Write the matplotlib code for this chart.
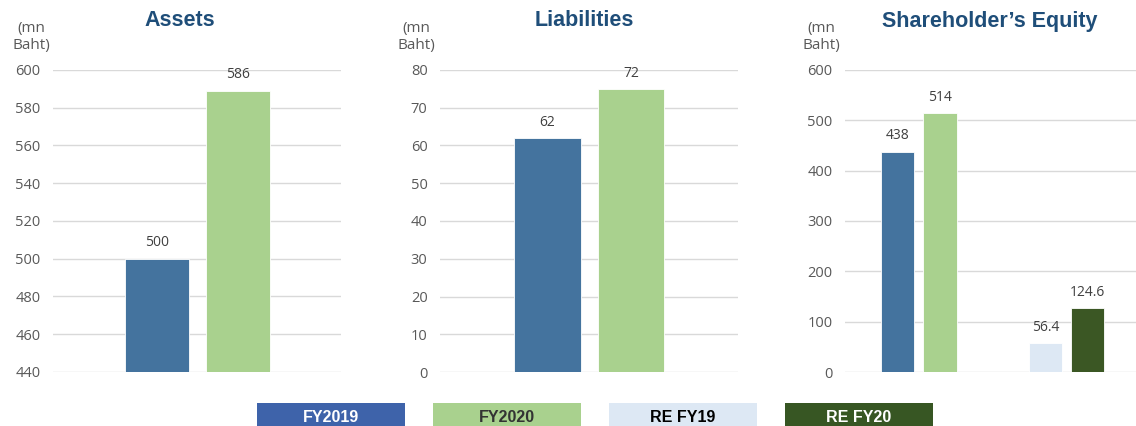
import matplotlib
matplotlib.use("Agg")
from matplotlib import pyplot as plt
from matplotlib.patches import Rectangle

# values (bar heights) and the printed labels
assets_vals = [500, 589]
assets_labels = ["500", "586"]
liab_vals = [62, 75]
liab_labels = ["62", "72"]
equity_vals = [438, 514, 57, 127]
equity_labels = ["438", "514", "56.4", "124.6"]

legend_names = ["FY2019", "FY2020", "RE FY19", "RE FY20"]
bar_colors = ["#44739e", "#a9d18e", "#dde8f4", "#3b5724"]
legend_colors = ["#3e63aa", "#a9d18e", "#dde8f4", "#375623"]
legend_text = ["white", "#333333", "black", "white"]

title_color = "#1f4e79"
tick_color = "#595959"
grid_color = "#d9d9d9"

plt.rcParams["font.family"] = ["Open Sans", "DejaVu Sans"]

W, H = 1136, 426
fig = plt.figure(figsize=(W / 100, H / 100), dpi=100)


def px_axes(x0, x1, y0, y1):
    return fig.add_axes([x0 / W, 1 - y1 / H, (x1 - x0) / W, (y1 - y0) / H])


def style_axes(ax, ylim, step, title, title_x, unit_x):
    ax.set_ylim(*ylim)
    ax.set_yticks(range(ylim[0], ylim[1] + 1, step))
    for s in ax.spines.values():
        s.set_visible(False)
    ax.set_xticks([])
    ax.tick_params(axis="y", length=0, labelsize=10.5, labelcolor=tick_color, pad=9)
    ax.yaxis.grid(True, color=grid_color, linewidth=1.0)
    ax.set_axisbelow(True)
    fig.text(title_x / W, 1 - 21 / H, title, ha="center", va="center",
             fontsize=15.5, fontweight="bold", color=title_color,
             family="Liberation Sans")
    fig.text(unit_x / W, 1 - 37 / H, "(mn\nBaht)", ha="center", va="center",
             fontsize=11, color=tick_color, linespacing=1.25)


def add_labels(ax, xs, vals, labels):
    for x, v, lab in zip(xs, vals, labels):
        ax.annotate(lab, (x, v), xytext=(0, 6), textcoords="offset points",
                    ha="center", va="bottom", fontsize=10, color="#404040")


# Assets
ax1 = px_axes(53, 341, 70, 372)
xs = [0, 1]
ax1.bar(xs, assets_vals, width=0.8, color=bar_colors[:2], edgecolor="white", linewidth=0.6)
ax1.set_xlim(-1.284, 2.27)
style_axes(ax1, (440, 600), 20, "Assets", 180, 31)
add_labels(ax1, xs, assets_vals, assets_labels)

# Liabilities
ax2 = px_axes(440, 738, 70, 372)
ax2.bar(xs, liab_vals, width=0.8, color=bar_colors[:2], edgecolor="white", linewidth=0.6)
ax2.set_xlim(-1.287, 2.28)
style_axes(ax2, (0, 80), 10, "Liabilities", 584, 416)
add_labels(ax2, xs, liab_vals, liab_labels)

# Shareholder's Equity
ax3 = px_axes(845, 1136, 70, 372)
xs3 = [0, 1, 3.48, 4.46]
ax3.bar(xs3, equity_vals, width=0.78, color=bar_colors, edgecolor="white", linewidth=0.6)
ax3.set_xlim(-1.235, 5.61)
style_axes(ax3, (0, 600), 100, "Shareholder\u2019s Equity", 990, 821)
add_labels(ax3, xs3, equity_vals, equity_labels)

# legend boxes along the bottom
for i, (name, c, tc) in enumerate(zip(legend_names, legend_colors, legend_text)):
    x0 = 257 + i * 176
    fig.patches.append(Rectangle((x0 / W, 0), 148 / W, 23 / H, transform=fig.transFigure,
                                 facecolor=c, edgecolor="none"))
    fig.text((x0 + 74) / W, 9 / H, name, ha="center", va="center", fontsize=11.5,
             fontweight="bold", color=tc, family="Liberation Sans")

fig.savefig("out.png", dpi=100)
